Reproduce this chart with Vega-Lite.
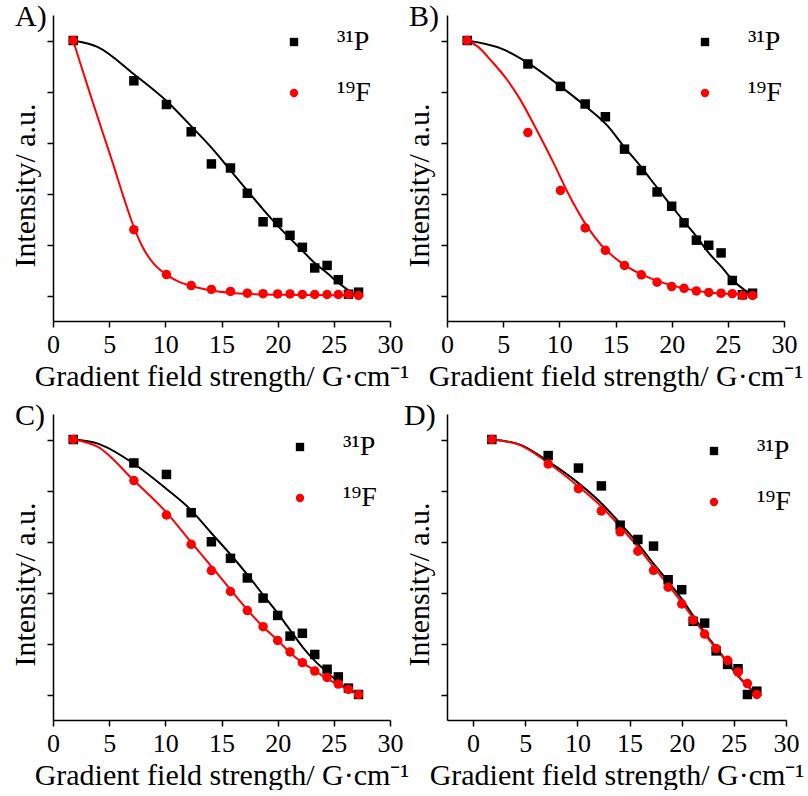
{
  "$schema": "https://vega.github.io/schema/vega-lite/v6.json",
  "background": "white",
  "padding": {"left": 10, "top": 2, "right": 0, "bottom": 0},
  "bounds": "flush",
  "columns": 2,
  "spacing": {"row": 93, "column": 57},
  "config": {
    "view": {"stroke": null},
    "font": "'Liberation Serif', 'Times New Roman', serif",
    "axis": {"domainColor": "#000", "domainWidth": 1.5, "tickColor": "#000", "tickWidth": 1.5, "grid": false,
      "labelFont": "'Liberation Serif', 'Times New Roman', serif", "labelFontSize": 26, "labelColor": "#000",
      "titleFont": "'Liberation Serif', 'Times New Roman', serif", "titleFontSize": 30, "titleFontWeight": "normal", "titleColor": "#000"},
    "legend": {"labelFont": "'Liberation Serif', 'Times New Roman', serif", "labelFontSize": 28, "labelColor": "#000",
      "symbolSize": 70, "labelOffset": 29, "rowPadding": 23},
    "title": {"font": "'Liberation Serif', 'Times New Roman', serif", "fontSize": 30, "fontWeight": "normal", "color": "#000", "anchor": "start", "frame": "group", "offset": 0, "baseline": "alphabetic"}
  },
  "resolve": {"scale": {"x": "independent", "y": "independent", "color": "independent", "shape": "independent"},
    "legend": {"color": "independent", "shape": "independent"}},
  "datasets": {
    "pts": [
      {"p":"A","n":"³¹P","g":1.8,"I":1.0},{"p":"A","n":"³¹P","g":7.2,"I":0.842},{"p":"A","n":"³¹P","g":10.1,"I":0.749},{"p":"A","n":"³¹P","g":12.3,"I":0.642},{"p":"A","n":"³¹P","g":14.1,"I":0.516},{"p":"A","n":"³¹P","g":15.8,"I":0.5},{"p":"A","n":"³¹P","g":17.3,"I":0.401},{"p":"A","n":"³¹P","g":18.7,"I":0.289},{"p":"A","n":"³¹P","g":20.0,"I":0.286},{"p":"A","n":"³¹P","g":21.1,"I":0.236},{"p":"A","n":"³¹P","g":22.2,"I":0.189},{"p":"A","n":"³¹P","g":23.3,"I":0.108},{"p":"A","n":"³¹P","g":24.4,"I":0.118},{"p":"A","n":"³¹P","g":25.4,"I":0.062},{"p":"A","n":"³¹P","g":26.3,"I":0.005},{"p":"A","n":"³¹P","g":27.2,"I":0.013},
      {"p":"B","n":"³¹P","g":1.8,"I":1.0},{"p":"B","n":"³¹P","g":7.2,"I":0.908},{"p":"B","n":"³¹P","g":10.1,"I":0.82},{"p":"B","n":"³¹P","g":12.3,"I":0.751},{"p":"B","n":"³¹P","g":14.1,"I":0.701},{"p":"B","n":"³¹P","g":15.8,"I":0.574},{"p":"B","n":"³¹P","g":17.3,"I":0.49},{"p":"B","n":"³¹P","g":18.7,"I":0.406},{"p":"B","n":"³¹P","g":20.0,"I":0.35},{"p":"B","n":"³¹P","g":21.1,"I":0.285},{"p":"B","n":"³¹P","g":22.2,"I":0.217},{"p":"B","n":"³¹P","g":23.3,"I":0.197},{"p":"B","n":"³¹P","g":24.4,"I":0.167},{"p":"B","n":"³¹P","g":25.4,"I":0.059},{"p":"B","n":"³¹P","g":26.3,"I":0.003},{"p":"B","n":"³¹P","g":27.2,"I":0.009},
      {"p":"C","n":"³¹P","g":1.8,"I":1.0},{"p":"C","n":"³¹P","g":7.2,"I":0.908},{"p":"C","n":"³¹P","g":10.1,"I":0.863},{"p":"C","n":"³¹P","g":12.3,"I":0.713},{"p":"C","n":"³¹P","g":14.1,"I":0.599},{"p":"C","n":"³¹P","g":15.8,"I":0.534},{"p":"C","n":"³¹P","g":17.3,"I":0.457},{"p":"C","n":"³¹P","g":18.7,"I":0.378},{"p":"C","n":"³¹P","g":20.0,"I":0.31},{"p":"C","n":"³¹P","g":21.1,"I":0.229},{"p":"C","n":"³¹P","g":22.2,"I":0.24},{"p":"C","n":"³¹P","g":23.3,"I":0.157},{"p":"C","n":"³¹P","g":24.4,"I":0.099},{"p":"C","n":"³¹P","g":25.4,"I":0.069},{"p":"C","n":"³¹P","g":26.3,"I":0.025},{"p":"C","n":"³¹P","g":27.2,"I":0.0},
      {"p":"D","n":"³¹P","g":1.8,"I":1.0},{"p":"D","n":"³¹P","g":7.2,"I":0.937},{"p":"D","n":"³¹P","g":10.1,"I":0.888},{"p":"D","n":"³¹P","g":12.3,"I":0.818},{"p":"D","n":"³¹P","g":14.1,"I":0.664},{"p":"D","n":"³¹P","g":15.8,"I":0.608},{"p":"D","n":"³¹P","g":17.3,"I":0.582},{"p":"D","n":"³¹P","g":18.7,"I":0.45},{"p":"D","n":"³¹P","g":20.0,"I":0.411},{"p":"D","n":"³¹P","g":21.1,"I":0.287},{"p":"D","n":"³¹P","g":22.2,"I":0.28},{"p":"D","n":"³¹P","g":23.3,"I":0.171},{"p":"D","n":"³¹P","g":24.4,"I":0.118},{"p":"D","n":"³¹P","g":25.4,"I":0.101},{"p":"D","n":"³¹P","g":26.3,"I":0.0},{"p":"D","n":"³¹P","g":27.2,"I":0.013},
      {"p":"A","n":"¹⁹F","g":1.8,"I":1.0},{"p":"A","n":"¹⁹F","g":7.2,"I":0.258},{"p":"A","n":"¹⁹F","g":10.1,"I":0.082},{"p":"A","n":"¹⁹F","g":12.3,"I":0.039},{"p":"A","n":"¹⁹F","g":14.1,"I":0.024},{"p":"A","n":"¹⁹F","g":15.8,"I":0.016},{"p":"A","n":"¹⁹F","g":17.3,"I":0.009},{"p":"A","n":"¹⁹F","g":18.7,"I":0.007},{"p":"A","n":"¹⁹F","g":20.0,"I":0.006},{"p":"A","n":"¹⁹F","g":21.1,"I":0.006},{"p":"A","n":"¹⁹F","g":22.2,"I":0.004},{"p":"A","n":"¹⁹F","g":23.3,"I":0.004},{"p":"A","n":"¹⁹F","g":24.4,"I":0.004},{"p":"A","n":"¹⁹F","g":25.4,"I":0.004},{"p":"A","n":"¹⁹F","g":26.3,"I":0.004},{"p":"A","n":"¹⁹F","g":27.2,"I":0.0},
      {"p":"B","n":"¹⁹F","g":1.8,"I":1.0},{"p":"B","n":"¹⁹F","g":7.2,"I":0.639},{"p":"B","n":"¹⁹F","g":10.1,"I":0.412},{"p":"B","n":"¹⁹F","g":12.3,"I":0.265},{"p":"B","n":"¹⁹F","g":14.1,"I":0.177},{"p":"B","n":"¹⁹F","g":15.8,"I":0.118},{"p":"B","n":"¹⁹F","g":17.3,"I":0.081},{"p":"B","n":"¹⁹F","g":18.7,"I":0.052},{"p":"B","n":"¹⁹F","g":20.0,"I":0.035},{"p":"B","n":"¹⁹F","g":21.1,"I":0.028},{"p":"B","n":"¹⁹F","g":22.2,"I":0.018},{"p":"B","n":"¹⁹F","g":23.3,"I":0.012},{"p":"B","n":"¹⁹F","g":24.4,"I":0.009},{"p":"B","n":"¹⁹F","g":25.4,"I":0.007},{"p":"B","n":"¹⁹F","g":26.3,"I":0.0},{"p":"B","n":"¹⁹F","g":27.2,"I":0.0},
      {"p":"C","n":"¹⁹F","g":1.8,"I":1.0},{"p":"C","n":"¹⁹F","g":7.2,"I":0.839},{"p":"C","n":"¹⁹F","g":10.1,"I":0.704},{"p":"C","n":"¹⁹F","g":12.3,"I":0.589},{"p":"C","n":"¹⁹F","g":14.1,"I":0.486},{"p":"C","n":"¹⁹F","g":15.8,"I":0.404},{"p":"C","n":"¹⁹F","g":17.3,"I":0.329},{"p":"C","n":"¹⁹F","g":18.7,"I":0.266},{"p":"C","n":"¹⁹F","g":20.0,"I":0.212},{"p":"C","n":"¹⁹F","g":21.1,"I":0.167},{"p":"C","n":"¹⁹F","g":22.2,"I":0.125},{"p":"C","n":"¹⁹F","g":23.3,"I":0.092},{"p":"C","n":"¹⁹F","g":24.4,"I":0.067},{"p":"C","n":"¹⁹F","g":25.4,"I":0.041},{"p":"C","n":"¹⁹F","g":26.3,"I":0.02},{"p":"C","n":"¹⁹F","g":27.2,"I":0.0},
      {"p":"D","n":"¹⁹F","g":1.8,"I":1.0},{"p":"D","n":"¹⁹F","g":7.2,"I":0.904},{"p":"D","n":"¹⁹F","g":10.1,"I":0.807},{"p":"D","n":"¹⁹F","g":12.3,"I":0.72},{"p":"D","n":"¹⁹F","g":14.1,"I":0.638},{"p":"D","n":"¹⁹F","g":15.8,"I":0.562},{"p":"D","n":"¹⁹F","g":17.3,"I":0.487},{"p":"D","n":"¹⁹F","g":18.7,"I":0.421},{"p":"D","n":"¹⁹F","g":20.0,"I":0.355},{"p":"D","n":"¹⁹F","g":21.1,"I":0.292},{"p":"D","n":"¹⁹F","g":22.2,"I":0.237},{"p":"D","n":"¹⁹F","g":23.3,"I":0.18},{"p":"D","n":"¹⁹F","g":24.4,"I":0.134},{"p":"D","n":"¹⁹F","g":25.4,"I":0.088},{"p":"D","n":"¹⁹F","g":26.3,"I":0.043},{"p":"D","n":"¹⁹F","g":27.2,"I":0.0}
    ],
    "fit": [
      {"p":"A","n":"³¹P","g":1.8,"I":1.0},{"p":"A","n":"³¹P","g":4.0,"I":0.974},{"p":"A","n":"³¹P","g":7.2,"I":0.868},{"p":"A","n":"³¹P","g":10.2,"I":0.759},{"p":"A","n":"³¹P","g":12.3,"I":0.664},{"p":"A","n":"³¹P","g":14.2,"I":0.575},{"p":"A","n":"³¹P","g":15.8,"I":0.491},{"p":"A","n":"³¹P","g":17.3,"I":0.411},{"p":"A","n":"³¹P","g":18.7,"I":0.338},{"p":"A","n":"³¹P","g":20.0,"I":0.274},{"p":"A","n":"³¹P","g":21.1,"I":0.224},{"p":"A","n":"³¹P","g":22.2,"I":0.176},{"p":"A","n":"³¹P","g":23.3,"I":0.127},{"p":"A","n":"³¹P","g":24.4,"I":0.088},{"p":"A","n":"³¹P","g":25.4,"I":0.05},{"p":"A","n":"³¹P","g":26.8,"I":0.005},
      {"p":"A","n":"¹⁹F","g":1.8,"I":1.0},{"p":"A","n":"¹⁹F","g":2.4,"I":0.915},{"p":"A","n":"¹⁹F","g":3.38,"I":0.78},{"p":"A","n":"¹⁹F","g":4.36,"I":0.648},{"p":"A","n":"¹⁹F","g":5.34,"I":0.517},{"p":"A","n":"¹⁹F","g":6.29,"I":0.385},{"p":"A","n":"¹⁹F","g":7.27,"I":0.26},{"p":"A","n":"¹⁹F","g":8.0,"I":0.188},{"p":"A","n":"¹⁹F","g":9.0,"I":0.123},{"p":"A","n":"¹⁹F","g":10.1,"I":0.082},{"p":"A","n":"¹⁹F","g":11.0,"I":0.058},{"p":"A","n":"¹⁹F","g":12.3,"I":0.037},{"p":"A","n":"¹⁹F","g":14.1,"I":0.02},{"p":"A","n":"¹⁹F","g":17.0,"I":0.007},{"p":"A","n":"¹⁹F","g":20.0,"I":0.003},{"p":"A","n":"¹⁹F","g":27.2,"I":0.0},
      {"p":"B","n":"³¹P","g":1.8,"I":1.0},{"p":"B","n":"³¹P","g":4.9,"I":0.967},{"p":"B","n":"³¹P","g":7.2,"I":0.912},{"p":"B","n":"³¹P","g":10.1,"I":0.82},{"p":"B","n":"³¹P","g":12.2,"I":0.747},{"p":"B","n":"³¹P","g":14.3,"I":0.665},{"p":"B","n":"³¹P","g":15.7,"I":0.587},{"p":"B","n":"³¹P","g":17.2,"I":0.508},{"p":"B","n":"³¹P","g":18.7,"I":0.423},{"p":"B","n":"³¹P","g":20.0,"I":0.35},{"p":"B","n":"³¹P","g":21.2,"I":0.285},{"p":"B","n":"³¹P","g":22.3,"I":0.226},{"p":"B","n":"³¹P","g":23.3,"I":0.167},{"p":"B","n":"³¹P","g":24.4,"I":0.114},{"p":"B","n":"³¹P","g":25.4,"I":0.062},{"p":"B","n":"³¹P","g":26.9,"I":0.009},
      {"p":"B","n":"¹⁹F","g":1.8,"I":1.0},{"p":"B","n":"¹⁹F","g":2.8,"I":0.974},{"p":"B","n":"¹⁹F","g":3.95,"I":0.92},{"p":"B","n":"¹⁹F","g":5.4,"I":0.843},{"p":"B","n":"¹⁹F","g":6.47,"I":0.772},{"p":"B","n":"¹⁹F","g":7.95,"I":0.652},{"p":"B","n":"¹⁹F","g":9.44,"I":0.524},{"p":"B","n":"¹⁹F","g":10.77,"I":0.402},{"p":"B","n":"¹⁹F","g":12.56,"I":0.265},{"p":"B","n":"¹⁹F","g":13.74,"I":0.197},{"p":"B","n":"¹⁹F","g":15.52,"I":0.128},{"p":"B","n":"¹⁹F","g":18.19,"I":0.066},{"p":"B","n":"¹⁹F","g":20.9,"I":0.03},{"p":"B","n":"¹⁹F","g":23.3,"I":0.012},{"p":"B","n":"¹⁹F","g":27.2,"I":0.003},
      {"p":"C","n":"³¹P","g":1.8,"I":1.0},{"p":"C","n":"³¹P","g":4.0,"I":0.984},{"p":"C","n":"³¹P","g":7.2,"I":0.905},{"p":"C","n":"³¹P","g":10.1,"I":0.806},{"p":"C","n":"³¹P","g":12.2,"I":0.727},{"p":"C","n":"³¹P","g":14.2,"I":0.628},{"p":"C","n":"³¹P","g":15.8,"I":0.549},{"p":"C","n":"³¹P","g":17.3,"I":0.47},{"p":"C","n":"³¹P","g":18.7,"I":0.391},{"p":"C","n":"³¹P","g":20.0,"I":0.319},{"p":"C","n":"³¹P","g":21.1,"I":0.253},{"p":"C","n":"³¹P","g":22.2,"I":0.187},{"p":"C","n":"³¹P","g":23.4,"I":0.128},{"p":"C","n":"³¹P","g":24.4,"I":0.088},{"p":"C","n":"³¹P","g":25.4,"I":0.049},{"p":"C","n":"³¹P","g":26.6,"I":0.009},
      {"p":"C","n":"¹⁹F","g":1.8,"I":1.0},{"p":"C","n":"¹⁹F","g":4.0,"I":0.971},{"p":"C","n":"¹⁹F","g":7.2,"I":0.839},{"p":"C","n":"¹⁹F","g":10.1,"I":0.714},{"p":"C","n":"¹⁹F","g":12.2,"I":0.602},{"p":"C","n":"¹⁹F","g":14.2,"I":0.497},{"p":"C","n":"¹⁹F","g":15.8,"I":0.411},{"p":"C","n":"¹⁹F","g":17.3,"I":0.332},{"p":"C","n":"¹⁹F","g":18.7,"I":0.266},{"p":"C","n":"¹⁹F","g":20.0,"I":0.213},{"p":"C","n":"¹⁹F","g":21.1,"I":0.164},{"p":"C","n":"¹⁹F","g":22.2,"I":0.125},{"p":"C","n":"¹⁹F","g":23.4,"I":0.091},{"p":"C","n":"¹⁹F","g":24.4,"I":0.062},{"p":"C","n":"¹⁹F","g":25.4,"I":0.038},{"p":"C","n":"¹⁹F","g":26.3,"I":0.02},{"p":"C","n":"¹⁹F","g":27.2,"I":0.0},
      {"p":"D","n":"³¹P","g":1.8,"I":1.0},{"p":"D","n":"³¹P","g":4.5,"I":0.98},{"p":"D","n":"³¹P","g":7.2,"I":0.914},{"p":"D","n":"³¹P","g":10.1,"I":0.829},{"p":"D","n":"³¹P","g":12.3,"I":0.75},{"p":"D","n":"³¹P","g":14.1,"I":0.671},{"p":"D","n":"³¹P","g":15.8,"I":0.592},{"p":"D","n":"³¹P","g":17.3,"I":0.513},{"p":"D","n":"³¹P","g":18.7,"I":0.443},{"p":"D","n":"³¹P","g":20.0,"I":0.375},{"p":"D","n":"³¹P","g":21.1,"I":0.309},{"p":"D","n":"³¹P","g":22.2,"I":0.243},{"p":"D","n":"³¹P","g":23.3,"I":0.184},{"p":"D","n":"³¹P","g":24.4,"I":0.125},{"p":"D","n":"³¹P","g":25.4,"I":0.072},{"p":"D","n":"³¹P","g":27.0,"I":0.007},
      {"p":"D","n":"¹⁹F","g":1.8,"I":1.0},{"p":"D","n":"¹⁹F","g":4.5,"I":0.978},{"p":"D","n":"¹⁹F","g":7.2,"I":0.908},{"p":"D","n":"¹⁹F","g":10.1,"I":0.816},{"p":"D","n":"¹⁹F","g":12.3,"I":0.737},{"p":"D","n":"¹⁹F","g":14.1,"I":0.658},{"p":"D","n":"¹⁹F","g":15.8,"I":0.579},{"p":"D","n":"¹⁹F","g":17.3,"I":0.5},{"p":"D","n":"¹⁹F","g":18.7,"I":0.43},{"p":"D","n":"¹⁹F","g":20.0,"I":0.362},{"p":"D","n":"¹⁹F","g":21.1,"I":0.299},{"p":"D","n":"¹⁹F","g":22.2,"I":0.237},{"p":"D","n":"¹⁹F","g":23.3,"I":0.18},{"p":"D","n":"¹⁹F","g":24.4,"I":0.125},{"p":"D","n":"¹⁹F","g":25.4,"I":0.075},{"p":"D","n":"¹⁹F","g":26.3,"I":0.036},{"p":"D","n":"¹⁹F","g":27.2,"I":0.0}
    ]
  },
  "concat": [
    {
      "width": 337, "height": 306,
      "title": {"text": "A)", "dx": -38, "dy": 21},
      "layer": [
        {"data": {"name": "fit"}, "transform": [{"filter": "datum.p === 'A' && datum.n === '³¹P'"}],
         "mark": {"type": "line", "interpolate": "monotone", "strokeWidth": 2, "color": "#000000"},
         "encoding": {
           "x": {"field": "g", "type": "quantitative", "scale": {"domain": [0, 30], "nice": false, "zero": false},
             "axis": {"values": [0,2.5,5,7.5,10,12.5,15,17.5,20,22.5,25,27.5,30], "labelExpr": "datum.value % 5 === 0 ? format(datum.value, 'd') : ''", "labelFlush": false, "labelOverlap": false, "labelPadding": 4, "tickSize": {"condition": {"test": "datum.value % 5 === 0", "value": 6}, "value": 3}, "title": "Gradient field strength/ G·cm⁻¹", "titlePadding": 4}},
           "y": {"field": "I", "type": "quantitative", "scale": {"domain": [-0.1, 1.1], "nice": false, "zero": false},
             "axis": {"values": [0,0.1,0.2,0.3,0.4,0.5,0.6,0.7,0.8,0.9,1.0,1.1], "labels": false, "tickSize": {"condition": {"test": "round(datum.value*10) % 2 === 0", "value": 6}, "value": 3}, "title": "Intensity/ a.u.", "titlePadding": 6, "titleY": 170}}
         }},
        {"data": {"name": "fit"}, "transform": [{"filter": "datum.p === 'A' && datum.n === '¹⁹F'"}],
         "mark": {"type": "line", "interpolate": "monotone", "strokeWidth": 2, "color": "#ff0000"},
         "encoding": {"x": {"field": "g", "type": "quantitative"}, "y": {"field": "I", "type": "quantitative"}}},
        {"data": {"name": "pts"}, "transform": [{"filter": "datum.p === 'A'"}],
         "mark": {"type": "point", "filled": true, "opacity": 1, "size": 90},
         "encoding": {
           "x": {"field": "g", "type": "quantitative"},
           "y": {"field": "I", "type": "quantitative"},
           "color": {"field": "n", "type": "nominal", "scale": {"domain": ["³¹P", "¹⁹F"], "range": ["#000000", "#ff0000"]}, "legend": {"orient": "none", "legendX": 227, "legendY": 13, "title": null}},
           "shape": {"field": "n", "type": "nominal", "scale": {"domain": ["³¹P", "¹⁹F"], "range": ["square", "circle"]}, "legend": {"orient": "none", "legendX": 227, "legendY": 13, "title": null}}
         }}
      ]
    },
    {
      "width": 337, "height": 306,
      "title": {"text": "B)", "dx": -38, "dy": 21},
      "layer": [
        {"data": {"name": "fit"}, "transform": [{"filter": "datum.p === 'B' && datum.n === '³¹P'"}],
         "mark": {"type": "line", "interpolate": "monotone", "strokeWidth": 2, "color": "#000000"},
         "encoding": {
           "x": {"field": "g", "type": "quantitative", "scale": {"domain": [0, 30], "nice": false, "zero": false},
             "axis": {"values": [0,2.5,5,7.5,10,12.5,15,17.5,20,22.5,25,27.5,30], "labelExpr": "datum.value % 5 === 0 ? format(datum.value, 'd') : ''", "labelFlush": false, "labelOverlap": false, "labelPadding": 4, "tickSize": {"condition": {"test": "datum.value % 5 === 0", "value": 6}, "value": 3}, "title": "Gradient field strength/ G·cm⁻¹", "titlePadding": 4}},
           "y": {"field": "I", "type": "quantitative", "scale": {"domain": [-0.1, 1.1], "nice": false, "zero": false},
             "axis": {"values": [0,0.1,0.2,0.3,0.4,0.5,0.6,0.7,0.8,0.9,1.0,1.1], "labels": false, "tickSize": {"condition": {"test": "round(datum.value*10) % 2 === 0", "value": 6}, "value": 3}, "title": "Intensity/ a.u.", "titlePadding": 6, "titleY": 170}}
         }},
        {"data": {"name": "fit"}, "transform": [{"filter": "datum.p === 'B' && datum.n === '¹⁹F'"}],
         "mark": {"type": "line", "interpolate": "monotone", "strokeWidth": 2, "color": "#ff0000"},
         "encoding": {"x": {"field": "g", "type": "quantitative"}, "y": {"field": "I", "type": "quantitative"}}},
        {"data": {"name": "pts"}, "transform": [{"filter": "datum.p === 'B'"}],
         "mark": {"type": "point", "filled": true, "opacity": 1, "size": 90},
         "encoding": {
           "x": {"field": "g", "type": "quantitative"},
           "y": {"field": "I", "type": "quantitative"},
           "color": {"field": "n", "type": "nominal", "scale": {"domain": ["³¹P", "¹⁹F"], "range": ["#000000", "#ff0000"]}, "legend": {"orient": "none", "legendX": 244, "legendY": 13, "title": null}},
           "shape": {"field": "n", "type": "nominal", "scale": {"domain": ["³¹P", "¹⁹F"], "range": ["square", "circle"]}, "legend": {"orient": "none", "legendX": 244, "legendY": 13, "title": null}}
         }}
      ]
    },
    {
      "width": 337, "height": 306,
      "title": {"text": "C)", "dx": -38, "dy": 21},
      "layer": [
        {"data": {"name": "fit"}, "transform": [{"filter": "datum.p === 'C' && datum.n === '³¹P'"}],
         "mark": {"type": "line", "interpolate": "monotone", "strokeWidth": 2, "color": "#000000"},
         "encoding": {
           "x": {"field": "g", "type": "quantitative", "scale": {"domain": [0, 30], "nice": false, "zero": false},
             "axis": {"values": [0,2.5,5,7.5,10,12.5,15,17.5,20,22.5,25,27.5,30], "labelExpr": "datum.value % 5 === 0 ? format(datum.value, 'd') : ''", "labelFlush": false, "labelOverlap": false, "labelPadding": 4, "tickSize": {"condition": {"test": "datum.value % 5 === 0", "value": 6}, "value": 3}, "title": "Gradient field strength/ G·cm⁻¹", "titlePadding": 4}},
           "y": {"field": "I", "type": "quantitative", "scale": {"domain": [-0.1, 1.1], "nice": false, "zero": false},
             "axis": {"values": [0,0.1,0.2,0.3,0.4,0.5,0.6,0.7,0.8,0.9,1.0,1.1], "labels": false, "tickSize": {"condition": {"test": "round(datum.value*10) % 2 === 0", "value": 6}, "value": 3}, "title": "Intensity/ a.u.", "titlePadding": 6, "titleY": 170}}
         }},
        {"data": {"name": "fit"}, "transform": [{"filter": "datum.p === 'C' && datum.n === '¹⁹F'"}],
         "mark": {"type": "line", "interpolate": "monotone", "strokeWidth": 2, "color": "#ff0000"},
         "encoding": {"x": {"field": "g", "type": "quantitative"}, "y": {"field": "I", "type": "quantitative"}}},
        {"data": {"name": "pts"}, "transform": [{"filter": "datum.p === 'C'"}],
         "mark": {"type": "point", "filled": true, "opacity": 1, "size": 90},
         "encoding": {
           "x": {"field": "g", "type": "quantitative"},
           "y": {"field": "I", "type": "quantitative"},
           "color": {"field": "n", "type": "nominal", "scale": {"domain": ["³¹P", "¹⁹F"], "range": ["#000000", "#ff0000"]}, "legend": {"orient": "none", "legendX": 233, "legendY": 19, "title": null}},
           "shape": {"field": "n", "type": "nominal", "scale": {"domain": ["³¹P", "¹⁹F"], "range": ["square", "circle"]}, "legend": {"orient": "none", "legendX": 233, "legendY": 19, "title": null}}
         }}
      ]
    },
    {
      "width": 339, "height": 306,
      "title": {"text": "D)", "dx": -43, "dy": 21},
      "layer": [
        {"data": {"name": "fit"}, "transform": [{"filter": "datum.p === 'D' && datum.n === '³¹P'"}],
         "mark": {"type": "line", "interpolate": "monotone", "strokeWidth": 2, "color": "#000000"},
         "encoding": {
           "x": {"field": "g", "type": "quantitative", "scale": {"domain": [-2.5, 30], "nice": false, "zero": false},
             "axis": {"values": [0,2.5,5,7.5,10,12.5,15,17.5,20,22.5,25,27.5,30], "labelExpr": "datum.value % 5 === 0 ? format(datum.value, 'd') : ''", "labelFlush": false, "labelOverlap": false, "labelPadding": 4, "tickSize": {"condition": {"test": "datum.value % 5 === 0", "value": 6}, "value": 3}, "title": "Gradient field strength/ G·cm⁻¹", "titlePadding": 4}},
           "y": {"field": "I", "type": "quantitative", "scale": {"domain": [-0.1, 1.1], "nice": false, "zero": false},
             "axis": {"values": [0,0.1,0.2,0.3,0.4,0.5,0.6,0.7,0.8,0.9,1.0,1.1], "labels": false, "tickSize": {"condition": {"test": "round(datum.value*10) % 2 === 0", "value": 6}, "value": 3}, "title": "Intensity/ a.u.", "titlePadding": 6, "titleY": 170}}
         }},
        {"data": {"name": "fit"}, "transform": [{"filter": "datum.p === 'D' && datum.n === '¹⁹F'"}],
         "mark": {"type": "line", "interpolate": "monotone", "strokeWidth": 2, "color": "#ff0000"},
         "encoding": {"x": {"field": "g", "type": "quantitative"}, "y": {"field": "I", "type": "quantitative"}}},
        {"data": {"name": "pts"}, "transform": [{"filter": "datum.p === 'D'"}],
         "mark": {"type": "point", "filled": true, "opacity": 1, "size": 90},
         "encoding": {
           "x": {"field": "g", "type": "quantitative"},
           "y": {"field": "I", "type": "quantitative"},
           "color": {"field": "n", "type": "nominal", "scale": {"domain": ["³¹P", "¹⁹F"], "range": ["#000000", "#ff0000"]}, "legend": {"orient": "none", "legendX": 253, "legendY": 23, "title": null}},
           "shape": {"field": "n", "type": "nominal", "scale": {"domain": ["³¹P", "¹⁹F"], "range": ["square", "circle"]}, "legend": {"orient": "none", "legendX": 253, "legendY": 23, "title": null}}
         }}
      ]
    }
  ]
}
